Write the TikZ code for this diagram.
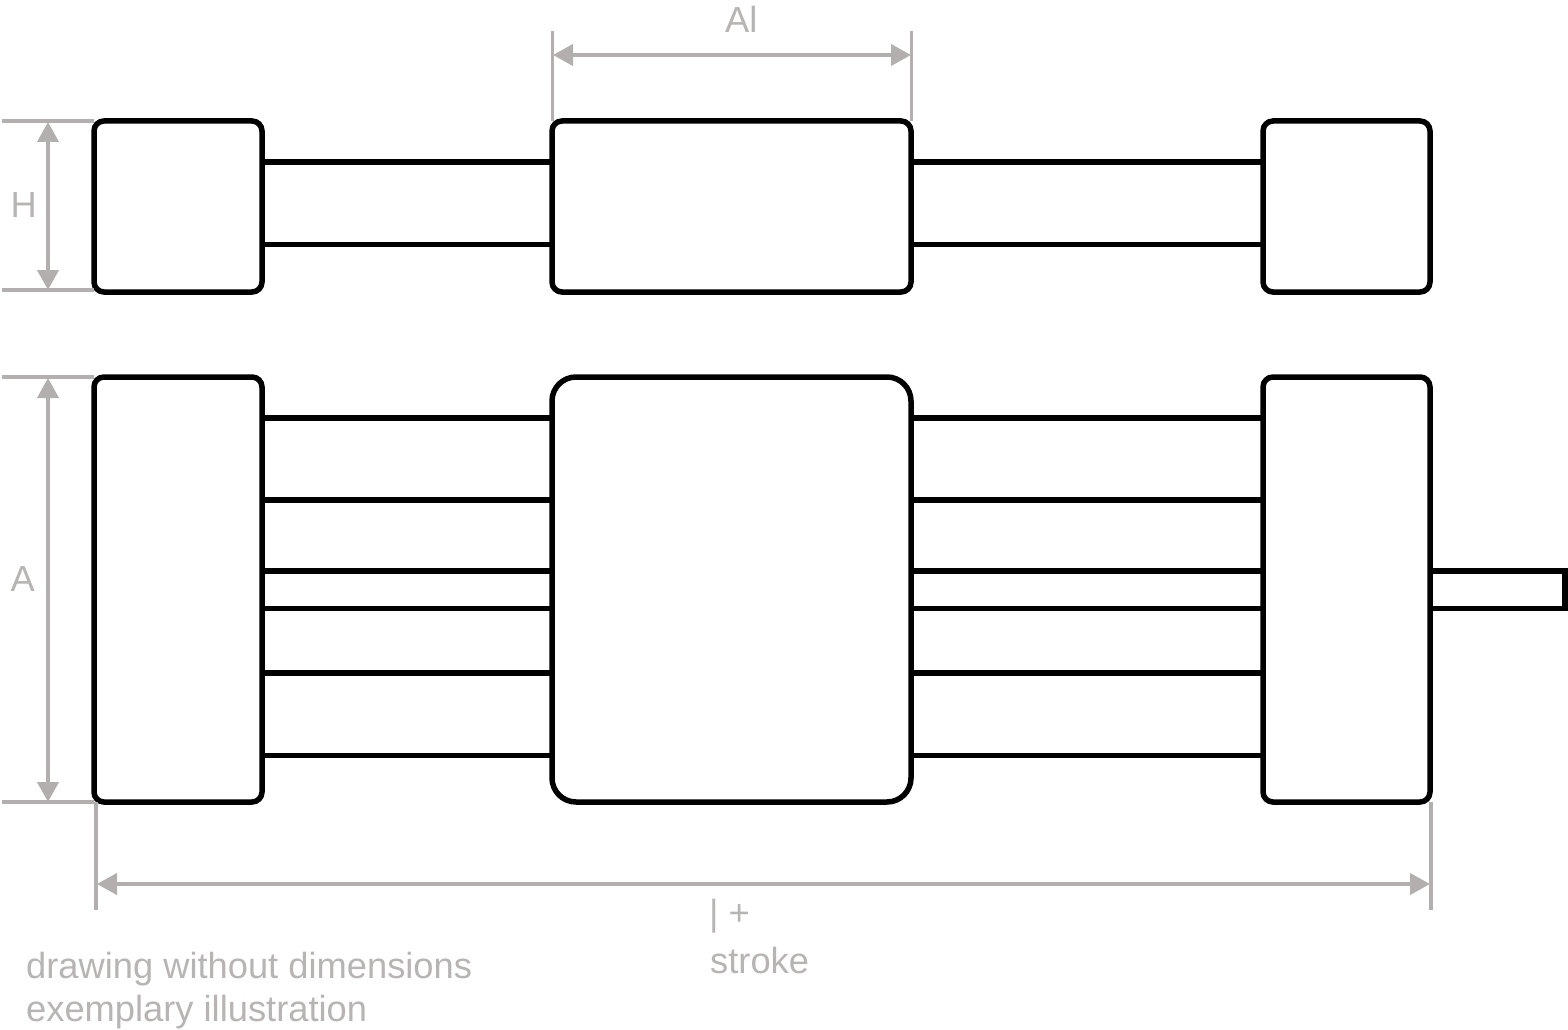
\documentclass[tikz,border=0pt]{standalone}
\usepackage{fontspec}
\setmainfont{Liberation Sans}
\usetikzlibrary{arrows.meta}
\definecolor{dimgray}{HTML}{B3AFAF}
\definecolor{txtgray}{HTML}{B8B4B4}
\tikzset{
  box/.style={draw=black,line width=5.5pt,inner sep=0pt,outer sep=0pt,rounded corners=#1,minimum height=0pt},
  box/.default=10pt,
  rod/.style={draw=black,line width=5.5pt},
  dimline/.style={draw=dimgray,line width=4pt},
  dimarrow/.style={draw=dimgray,line width=4pt,{Triangle[length=20pt,width=21pt,fill=dimgray]}-{Triangle[length=20pt,width=21pt,fill=dimgray]},shorten <=0pt,shorten >=0pt},
  lab/.style={text=txtgray,font=\fontsize{36.3}{36.3}\selectfont,inner sep=0pt,anchor=base west}
}
\begin{document}
\begin{tikzpicture}[x=1pt,y=-1pt]
\useasboundingbox (0,0) rectangle (1568,1030);
% boxes
\node[box,minimum width=168pt,minimum height=171pt] (tl) at (178,206.5) {};
\node[box,minimum width=359pt,minimum height=171pt] (tc) at (731.5,206.5) {};
\node[box,minimum width=167pt,minimum height=171pt] (tr) at (1346.5,206.5) {};
\node[box,minimum width=168pt,minimum height=425pt] (bl) at (178,589.5) {};
\node[box=24pt,minimum width=359pt,minimum height=425pt] (bc) at (731.5,589.5) {};
\node[box,minimum width=167pt,minimum height=425pt] (br) at (1346.5,589.5) {};
% rods
\foreach \yy in {162,244.5} {
  \draw[rod] (tl.east |- 0,\yy) -- (tc.west |- 0,\yy);
  \draw[rod] (tc.east |- 0,\yy) -- (tr.west |- 0,\yy);
}
\foreach \yy in {418,500,571,608.5,673,755.5} {
  \draw[rod] (bl.east |- 0,\yy) -- (bc.west |- 0,\yy);
  \draw[rod] (bc.east |- 0,\yy) -- (br.west |- 0,\yy);
}
\coordinate (rodtip) at (1565,571);
\draw[rod,line join=miter] (br.east |- rodtip) -- (rodtip) -- (1565,608.5) -- (br.east |- 0,608.5);
% extension lines
\coordinate (alL) at (552.5,31);
\coordinate (alR) at (911.5,31);
\draw[dimline,line width=3.5pt] (alL) -- (tc.north west -| alL);
\draw[dimline,line width=3.5pt] (alR) -- (tc.north east -| alR);
\coordinate (hL) at (2,121);
\draw[dimline] (hL) -- (tl.west |- hL);
\coordinate (hL2) at (2,290);
\draw[dimline] (hL2) -- (tl.west |- hL2);
\coordinate (aL) at (2,377);
\draw[dimline] (aL) -- (bl.west |- aL);
\coordinate (aL2) at (2,802);
\draw[dimline] (aL2) -- (bl.west |- aL2);
\coordinate (lL) at (96,802);
\coordinate (lLb) at (96,910);
\draw[dimline] (lL) -- (lLb);
\coordinate (lR) at (1430.5,802);
\coordinate (lRb) at (1430.5,910);
\draw[dimline] (lR) -- (lRb);
% dimension arrows
\draw[dimarrow] (553,55) -- (911,55);
\draw[dimarrow] (48,122) -- (48,290);
\draw[dimarrow] (48,378) -- (48,802);
\draw[dimarrow] (97,884) -- (1430,884);
% labels
\node[lab] (tH) at (10.5,217) {H};
\node[lab] (tA) at (10.5,591) {A};
\node[lab] (tAl) at (725,33) {Al};
\node[lab] (tl1) at (709,925) {| +};
\node[lab] (tl2) at (710,973) {stroke};
\node[lab] (tn1) at (26,978) {drawing without dimensions};
\node[lab] (tn2) at (26,1021.5) {exemplary illustration};
\end{tikzpicture}
\end{document}
